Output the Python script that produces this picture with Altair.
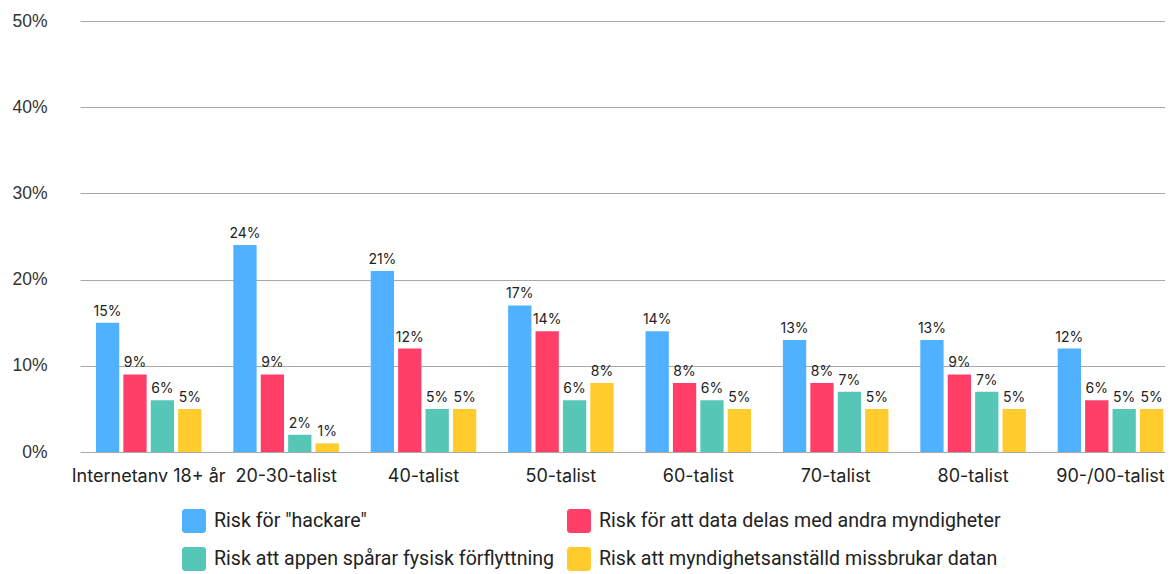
import altair as alt
import pandas as pd

categories = ["Internetanv 18+ år", "20-30-talist", "40-talist", "50-talist",
              "60-talist", "70-talist", "80-talist", "90-/00-talist"]
series = ['Risk för "hackare"', "Risk för att data delas med andra myndigheter",
          "Risk att appen spårar fysisk förflyttning", "Risk att myndighetsanställd missbrukar datan"]
hackare = [15, 24, 21, 17, 14, 13, 13, 12]
delas = [9, 9, 12, 14, 8, 8, 9, 6]
sparar = [6, 2, 5, 6, 6, 7, 7, 5]
missbrukar = [5, 1, 5, 8, 5, 5, 5, 5]
colors = ["#4FB1FF", "#FF3F68", "#56C7B6", "#FFCB2D"]

rows = []
for s, vals in zip(series, [hackare, delas, sparar, missbrukar]):
    for c, v in zip(categories, vals):
        rows.append({"cat": c, "series": s, "value": v, "label": f"{v}%"})
df = pd.DataFrame(rows)

# legend fills column-major: order so that rows read hackare|delas, sparar|missbrukar
legend_order = [series[0], series[2], series[1], series[3]]
legend_colors = [colors[0], colors[2], colors[1], colors[3]]

rounded_square = ("M-0.75,-1 H0.75 A0.25,0.25 0 0 1 1,-0.75 V0.75 A0.25,0.25 0 0 1 0.75,1 "
                  "H-0.75 A0.25,0.25 0 0 1 -1,0.75 V-0.75 A0.25,0.25 0 0 1 -0.75,-1 Z")

x = alt.X("cat:N", sort=categories, title=None,
          scale=alt.Scale(paddingInner=0.232, paddingOuter=0.0644, align=0.9),
          axis=alt.Axis(labelAngle=0, labelFont="Inter", labelFontSize=18, labelColor="#222",
                        labelPadding=15, ticks=False, domain=False, labelLimit=300))
xo = alt.XOffset("series:N", sort=series, scale=alt.Scale(paddingInner=0.15))
y = alt.Y("value:Q", title=None,
          scale=alt.Scale(domain=[0, 50]),
          axis=alt.Axis(values=[0, 10, 20, 30, 40, 50], labelExpr="datum.value + '%'",
                        labelFont="Liberation Sans", labelFontSize=17.5, labelColor="#333",
                        labelPadding=33, ticks=False, domain=False,
                        gridColor="#a8a8a8", gridWidth=1.2))

color = alt.Color("series:N", title=None,
                  scale=alt.Scale(domain=legend_order, range=legend_colors),
                  legend=alt.Legend(orient="none", legendX=102, legendY=488, columns=2,
                                    symbolType=rounded_square, symbolSize=576,
                                    symbolStrokeWidth=0, symbolOpacity=1,
                                    labelFont="Roboto", labelFontSize=19.6, labelColor="#222",
                                    labelLimit=0, labelOffset=8, columnPadding=12,
                                    rowPadding=14))

bars = alt.Chart(df).mark_bar().encode(x=x, xOffset=xo, y=y, color=color)
texts = alt.Chart(df).mark_text(baseline="bottom", dy=-4, font="Inter", fontSize=14,
                                color="#222").encode(
    x=alt.X("cat:N", sort=categories),
    xOffset=alt.XOffset("series:N", sort=series),
    y="value:Q", text="label:N")

chart = (bars + texts).properties(
    width=1085, height=431,
    autosize=alt.AutoSizeParams(type="none"),
    padding={"left": 72, "top": 13, "right": 0, "bottom": 122},
).configure_view(stroke=None)
chart.save("out.html", embed_options={"renderer": "svg", "actions": False})
